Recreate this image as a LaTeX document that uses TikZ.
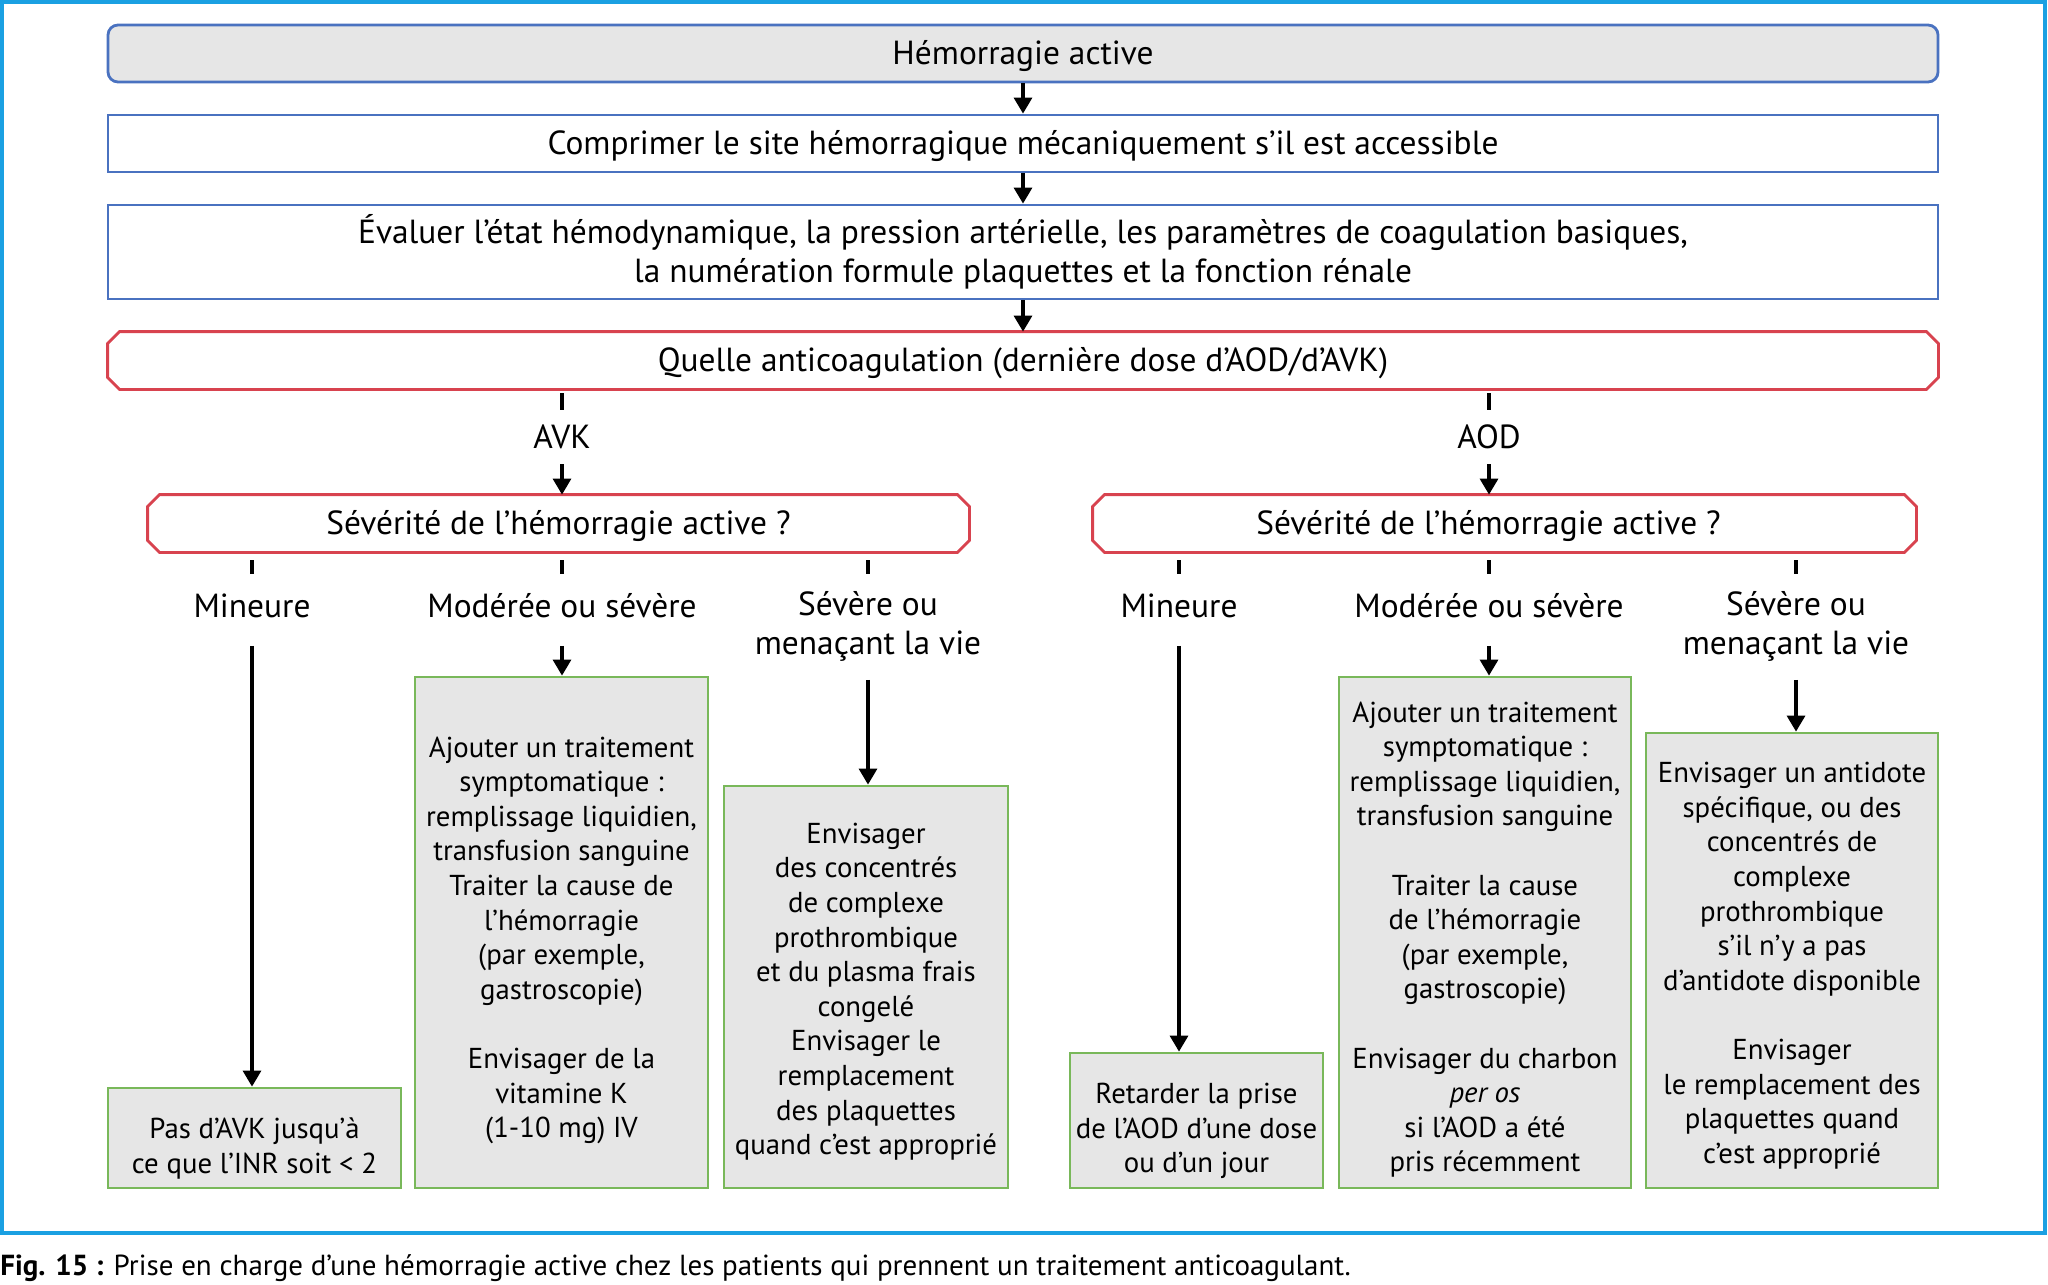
\documentclass[tikz,border=0pt]{standalone}
\usepackage{fontspec}
\setmainfont{PT Sans}
\usetikzlibrary{arrows.meta}
\definecolor{frameblue}{HTML}{1AA0E2}
\definecolor{boxblue}{HTML}{4A72C0}
\definecolor{boxred}{HTML}{D8434F}
\definecolor{boxgreen}{HTML}{79B85A}
\definecolor{boxgray}{HTML}{E6E6E6}
\tikzset{
 mainfont/.style={font=\fontsize{16.7}{19.5}\selectfont},
 boxfont/.style={font=\fontsize{14.4}{17.3}\selectfont},
 oneline/.style={text height=12pt, text depth=1.4pt},
 topbox/.style={draw=boxblue, line width=1.4pt, minimum width=915pt, minimum height=28.5pt, inner sep=0pt, align=center, mainfont},
 qbox/.style={minimum height=28.5pt, inner sep=0pt, align=center, mainfont, oneline},
 gbox/.style={draw=boxgreen, fill=boxgray, line width=1.4pt, inner sep=0pt},
 gtext/.style={inner sep=0pt, align=center, boxfont},
 lbl/.style={inner sep=0pt, align=center, mainfont},
 arr/.style={line width=1.6pt, -{Triangle[length=8pt,width=9pt]}},
 tickline/.style={line width=1.8pt},
}
\newcommand\chamf[1]{\draw[draw=boxred,line width=1.4pt] ([xshift=6pt]#1.north west) -- ([xshift=-6pt]#1.north east) -- ([yshift=-6pt]#1.north east) -- ([yshift=6pt]#1.south east) -- ([xshift=-6pt]#1.south east) -- ([xshift=6pt]#1.south west) -- ([yshift=6pt]#1.south west) -- ([yshift=-6pt]#1.north west) -- cycle;}
\begin{document}
\begin{tikzpicture}[x=0.5pt,y=-0.5pt]
\useasboundingbox (0,0) rectangle (2048,1284);
\draw[frameblue, line width=2.2pt] (2,2) rectangle (2045,1233);

% top chain
\node[topbox, oneline, fill=boxgray, rounded corners=5pt] (b0) at (1023,53.5) {Hémorragie active};
\node[topbox, oneline] (b1) at (1023,143.5) {Comprimer le site hémorragique mécaniquement s’il est accessible};
\node[topbox, minimum height=47pt] (b2) at (1023,252) {Évaluer l’état hémodynamique, la pression artérielle, les paramètres de coagulation basiques,\\la numération formule plaquettes et la fonction rénale};
\node[qbox, minimum width=915pt] (q) at (1023,360.5) {Quelle anticoagulation (dernière dose d’AOD/d’AVK)};
\chamf{q}
\draw[arr] (b0.south) -- (b1.north);
\draw[arr] (b1.south) -- (b2.north);
\draw[arr] (b2.south) -- (q.north);

% AVK / AOD
\node[lbl, minimum height=27pt] (avk) at (562,437) {AVK};
\node[lbl, minimum height=27pt] (aod) at (1489,437) {AOD};
\draw[tickline, shorten <=2pt] (q.south -| avk.north) -- (avk.north);
\draw[tickline, shorten <=2pt] (q.south -| aod.north) -- (aod.north);

\node[qbox, minimum width=410.5pt] (sevL) at (558.5,523.5) {Sévérité de l’hémorragie active ?};
\node[qbox, minimum width=411.5pt] (sevR) at (1504.5,523.5) {Sévérité de l’hémorragie active ?\hspace*{16pt}};
\chamf{sevL}
\chamf{sevR}
\draw[arr] (avk.south) -- (avk.south |- sevL.north);
\draw[arr] (aod.south) -- (aod.south |- sevR.north);

% severity labels
\node[lbl, anchor=north, minimum height=31pt] (mL) at (252,574) {Mineure};
\node[lbl, anchor=north, minimum height=31pt] (modL) at (562,574) {Modérée ou sévère};
\node[lbl, anchor=north, minimum height=52.5pt] (svL) at (868,574) {Sévère ou\\menaçant la vie};
\node[lbl, anchor=north, minimum height=31pt] (mR) at (1179,574) {Mineure};
\node[lbl, anchor=north, minimum height=31pt] (modR) at (1489,574) {Modérée ou sévère};
\node[lbl, anchor=north, minimum height=52.5pt] (svR) at (1796,574) {Sévère ou\\menaçant la vie};
\foreach \n in {mL,modL,svL} \draw[tickline, shorten <=4pt] (sevL.south -| \n.north) -- (\n.north);
\foreach \n in {mR,modR,svR} \draw[tickline, shorten <=4pt] (sevR.south -| \n.north) -- (\n.north);

% green boxes
\node[gbox, minimum width=146.5pt, minimum height=50pt, label={[gtext, yshift=-5.2pt]center:{Pas d’AVK jusqu’à\\ce que l’INR soit < 2}}] (g1) at (254.5,1138) {};
\node[gbox, minimum width=146.5pt, minimum height=255.5pt, label={[gtext, yshift=-3.9pt]center:{Ajouter un traitement\\symptomatique :\\remplissage liquidien,\\transfusion sanguine\\Traiter la cause de\\l’hémorragie\\(par exemple,\\gastroscopie)\\[17.3pt]Envisager de la\\vitamine K\\(1-10 mg) IV}}] (g2) at (561.5,932.5) {};
\node[gbox, minimum width=142pt, minimum height=201pt, label={[gtext, yshift=-2.3pt]center:{Envisager\\des concentrés\\de complexe\\prothrombique\\et du plasma frais\\congelé\\Envisager le\\remplacement\\des plaquettes\\quand c’est approprié}}] (g3) at (866,987) {};
\node[gbox, minimum width=126.5pt, minimum height=67.5pt, label={[gtext, yshift=-5.2pt]center:{Retarder la prise\\de l’AOD d’une dose\\ou d’un jour}}] (g4) at (1196.5,1120.5) {};
\node[gbox, minimum width=146pt, minimum height=255.5pt, label={[gtext, yshift=-3.6pt]center:{Ajouter un traitement\\symptomatique :\\remplissage liquidien,\\transfusion sanguine\\[17.3pt]Traiter la cause\\de l’hémorragie\\(par exemple,\\gastroscopie)\\[17.3pt]Envisager du charbon\\\textit{per os}\\si l’AOD a été\\pris récemment}}] (g5) at (1485,932.5) {};
\node[gbox, minimum width=146pt, minimum height=227.5pt, label={[gtext, yshift=-2.6pt]center:{Envisager un antidote\\spécifique, ou des\\concentrés de\\complexe\\prothrombique\\s’il n’y a pas\\d’antidote disponible\\[17.3pt]Envisager\\le remplacement des\\plaquettes quand\\c’est approprié}}] (g6) at (1792,960.5) {};

\draw[arr, shorten <=4.5pt] (mL.south) -- (mL.south |- g1.north);
\draw[arr, shorten <=4.5pt] (modL.south) -- (modL.south |- g2.north);
\draw[arr] (svL.south) -- (svL.south |- g3.north);
\draw[arr, shorten <=4.5pt] (mR.south) -- (mR.south |- g4.north);
\draw[arr, shorten <=4.5pt] (modR.south) -- (modR.south |- g5.north);
\draw[arr] (svR.south) -- (svR.south |- g6.north);

% caption
\node[anchor=west, inner sep=0pt, font=\fontsize{14.5}{17}\selectfont] (cap) at (0,1268) {\textbf{Fig. 15 :} Prise en charge d’une hémorragie active chez les patients qui prennent un traitement anticoagulant.};
\end{tikzpicture}
\end{document}
